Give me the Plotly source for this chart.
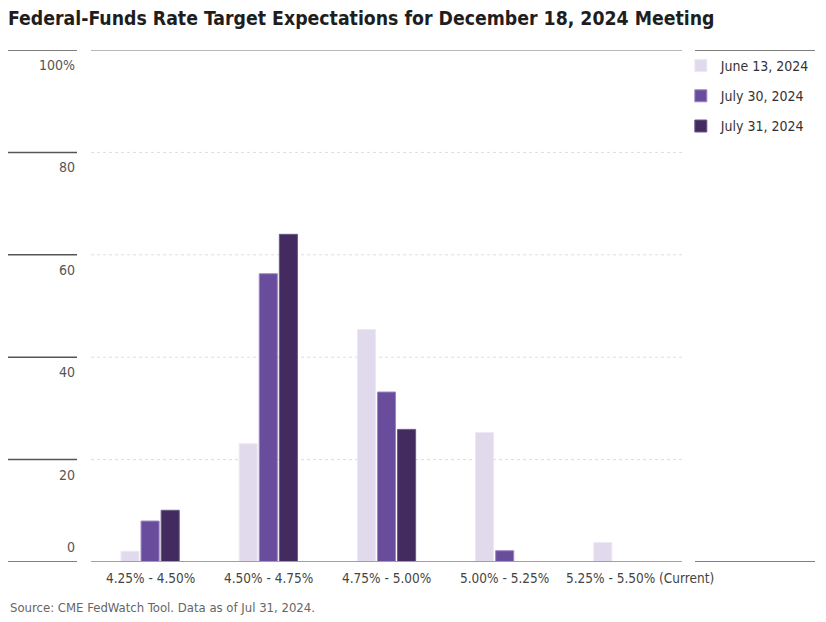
import plotly.graph_objects as go

categories = ["4.25% - 4.50%", "4.50% - 4.75%", "4.75% - 5.00%", "5.00% - 5.25%", "5.25% - 5.50% (Current)"]
series_names = ["June 13, 2024", "July 30, 2024", "July 31, 2024"]
june13 = [2.1, 23.1, 45.4, 25.3, 3.8]
july30 = [8.0, 56.3, 33.2, 2.2, 0.0]
july31 = [10.1, 64.0, 25.9, 0.0, 0.0]
y_ticks = [0, 20, 40, 60, 80, 100]
y_ticklabels = ["0", "20", "40", "60", "80", "100%"]

colors = ["#E1DAEC", "#6A4C9C", "#432B60"]
edge = ["#EDE8F4", "#9C86C2", "#6A5A88"]
FONT = "Liberation Sans Narrow, DejaVu Sans Condensed, Roboto, sans-serif"

fig = go.Figure()
for i, (name, vals, c, e) in enumerate(zip(series_names, [june13, july30, july31], colors, edge)):
    fig.add_trace(go.Bar(x=categories, y=vals, name=name, legendgroup=f"g{i}",
                         marker=dict(color=c, line=dict(color=e, width=1))))

shapes = []
for t in y_ticks:
    shapes.append(dict(type="line", xref="paper", yref="y", x0=-0.142, x1=-0.0237, y0=t, y1=t,
                       line=dict(color="#555555", width=1.5)))
    if t not in (0, 100):
        shapes.append(dict(type="line", xref="paper", yref="y", x0=0, x1=1, y0=t, y1=t,
                           line=dict(color="#DDDDDD", width=1, dash="dot"), layer="below"))
shapes.append(dict(type="line", xref="paper", yref="y", x0=0, x1=1, y0=100, y1=100,
                   line=dict(color="#A0A0A0", width=1.5)))
shapes.append(dict(type="line", xref="paper", yref="y", x0=0, x1=1, y0=0, y1=0,
                   line=dict(color="#A0A0A0", width=2)))
for t in (0, 100):
    shapes.append(dict(type="line", xref="paper", yref="y", x0=1.022, x1=1.225, y0=t, y1=t,
                       line=dict(color="#555555", width=1.5)))

annotations = []
for t, lab in zip(y_ticks, y_ticklabels):
    annotations.append(dict(xref="paper", yref="y", x=-0.0237, y=t, text=lab, showarrow=False,
                            xanchor="right", yanchor="middle", yshift=15 if t == 0 else -15,
                            font=dict(family=FONT, size=14, color="#555555")))
# category labels (last one sits a little to the right in the reference)
for j, cat in enumerate(categories):
    annotations.append(dict(xref="x", yref="paper", x=cat, y=0, text=cat, showarrow=False,
                            xanchor="center", yanchor="top", yshift=-6,
                            xshift=17 if j == len(categories) - 1 else 0,
                            font=dict(family=FONT, size=13.5, color="#444444")))
annotations.append(dict(xref="paper", yref="paper", x=-0.1404, y=-0.088, xanchor="left", yanchor="middle",
                        text="Source: CME FedWatch Tool. Data as of Jul 31, 2024.", showarrow=False,
                        font=dict(family=FONT, size=13, color="#666666")))

# page has an 8px body margin: offset the layout so the plot lands where the reference has it
fig.update_layout(
    width=826, height=622,
    margin=dict(l=83, r=152, t=42, b=68, autoexpand=False),
    paper_bgcolor="white", plot_bgcolor="white",
    title=dict(text="<b>Federal-Funds Rate Target Expectations for December 18, 2024 Meeting</b>",
               x=0.0, xanchor="left", y=0.984, yanchor="middle",
               font=dict(family=FONT, size=19.3, color="#1E1E1E")),
    barmode="group", bargap=0.49, bargroupgap=0.1,
    showlegend=True,
    legend=dict(x=0.998, y=1.0, xanchor="left", yanchor="top",
                font=dict(family=FONT, size=14, color="#333333"),
                itemwidth=30, tracegroupgap=9, bgcolor="rgba(0,0,0,0)"),
    xaxis=dict(showgrid=False, showline=False, ticks="", zeroline=False, automargin=False,
               showticklabels=False, range=[-0.5, len(categories) - 0.5], autorange=False),
    yaxis=dict(range=[0, 100], showgrid=False, zeroline=False, showline=False, automargin=False,
               showticklabels=False, tickvals=y_ticks),
    shapes=shapes, annotations=annotations,
)
fig.write_html("out.html")
